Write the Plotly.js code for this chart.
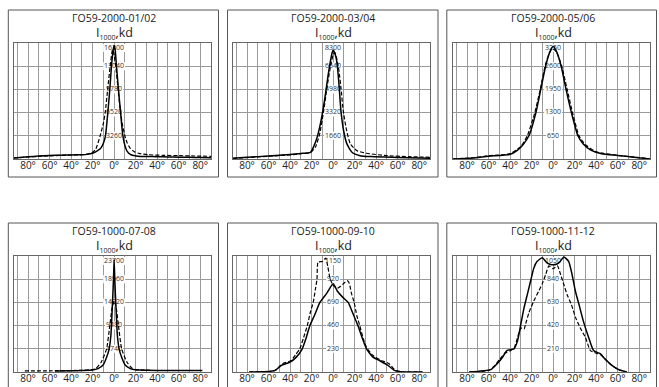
<!DOCTYPE html>
<html><head><meta charset="utf-8">
<script src="https://cdn.plot.ly/plotly-3.0.1.min.js"></script>
<style>html,body{margin:0;padding:0;background:#fff}#chart{width:659px;height:387px}</style>
</head><body><div id="chart"></div>
<script>
// ---------- data ----------
const titles = ["ГО59-2000-01/02", "ГО59-2000-03/04", "ГО59-2000-05/06",
                "ГО59-1000-07-08", "ГО59-1000-09-10", "ГО59-1000-11-12"];
const unitLabel = "I<sub><span style='font-size:7px'>1000</span></sub>,kd";
const angleTicks = [-90,-80,-70,-60,-50,-40,-30,-20,-10,0,10,20,30,40,50,60,70,80,90];
const angleTickText = ["","80°","","60°","","40°","","20°","","0°","","20°","","40°","","60°","","80°",""];

const yLabels1 = [16300, 13040, 9780, 6520, 3260];
const yLabels2 = [8300, 6640, 4980, 3320, 1660];
const yLabels3 = [3250, 2600, 1950, 1300, 650];
const yLabels4 = [23700, 18960, 14220, 9480, 4740];
const yLabels5 = [1150, 920, 690, 460, 230];
const yLabels6 = [1050, 840, 630, 420, 210];

// panel 1
const solidAng1 = [-93,-80,-70,-60,-50,-40,-30,-25,-20,-15,-12,-10,-8,-6,-4,-2.5,-1,0,1,2.2,4,6,8,10,12,15,18,22,30,40,50,60,70,80,90];
const solidVal1 = [150,300,420,500,540,570,600,650,800,1200,1600,2200,3300,6300,9800,13000,15200,16000,15300,13000,9800,6500,3400,1900,1100,650,480,400,350,320,290,260,230,200,180];
const dashAng1 = [-93,-80,-60,-40,-30,-25,-20,-17,-13,-10,-8.3,-6,-3.7,-1.5,0,1.5,3.7,6,8,10,12,15,19,23,32,45,60,75,90];
const dashVal1 = [150,280,450,560,600,700,950,1400,3260,5000,6520,9780,13040,15350,14600,13040,9780,6520,4600,3260,2300,1500,1000,800,600,520,470,420,380];
// panel 2
const solidAng2 = [-93,-80,-60,-40,-30,-21,-17,-14,-10.6,-7.5,-4.4,-1,0,2.5,4,5.6,7.2,9.7,12.8,17.5,25,35,60,90];
const solidVal2 = [60,120,220,330,400,480,1080,1800,3000,4450,6130,7580,7800,7340,6600,5170,3490,2040,1080,480,240,170,110,60];
const dashAng2 = [-93,-80,-60,-40,-30,-21,-16.5,-12.5,-8.7,-5.6,-2.5,0,1.5,3,5.3,7.5,9.3,12.5,16,22,31,50,70,90];
const dashVal2 = [50,100,200,300,380,480,840,1800,3490,5170,6600,7450,7630,7300,6370,4930,3490,2040,1080,600,410,240,170,120];
// panel 3
const solidAng3 = [-93,-75,-60,-40,-33,-28,-22.5,-16,-11.5,-7,-3,0,3,7.5,12,17,23,28,35,45,60,75,90];
const solidVal3 = [0,30,80,130,250,400,650,1300,1950,2600,3000,3150,3020,2600,1950,1300,650,420,250,150,100,50,0];
const dashAng3 = [-93,-75,-60,-40,-30,-24,-17,-12,-7.5,-3,0,3,8,13,18,24,30,40,60,80,90];
const dashVal3 = [0,35,90,150,350,650,1300,1950,2600,3000,3080,3000,2600,1950,1300,650,400,200,100,40,0];
// panel 4
const solidAng4 = [-55,-40,-30,-20,-15,-10,-7,-4.6,-3,-2.5,-1.5,-0.6,0,0.6,1.5,2.5,3,4.6,7,10,15,20,30,50,70,82];
const solidVal4 = [200,250,300,400,700,1500,3000,4740,7500,9480,14220,18960,23000,18960,14220,9480,7500,4740,3000,1500,700,450,350,300,300,300];
const dashAng4 = [-83,-60,-40,-30,-20,-17,-12,-7,-4,-2,0,2,4,7,12,17,20,25,35];
const dashVal4 = [250,250,300,350,500,700,2000,4740,9480,13000,14500,13000,9480,4740,2000,700,500,400,350];
// panel 5
const solidAng5 = [-78,-60,-54,-48,-40,-34,-28.7,-25,-21.6,-17,-12.3,-6,0,4,9,14,18,23,27,31,37,43,51,57,65,83];
const solidVal5 = [0,5,16,65,98,150,230,340,460,570,690,780,875,800,740,690,590,460,340,230,147,114,65,16,0,0];
const dashAng5 = [-78,-60,-54,-47,-39,-35,-31,-27.5,-24,-21,-18.5,-16.5,-15,-14,-10,-7,-5,-3,0,4,7,10,13,15,17,19.5,22,24.7,28,31,37,45,52,58,65,83];
const dashVal5 = [0,5,15,82,114,170,230,340,460,600,690,820,920,1090,1095,1130,1050,931,860,830,850,880,905,880,780,690,560,460,330,245,163,114,82,16,0,0];
// panel 6
const solidAng6 = [-78,-58,-52,-47,-43,-36.4,-33,-30,-27,-24,-21,-18,-15,-10,-6,-3,0,3,6,10,14.5,17.6,20.7,24,28,33,37.6,44,48,54.6,61,68.5];
const solidVal6 = [0,21,75,134,194,209,284,433,582,701,821,940,1000,1035,990,975,970,975,995,1040,1000,881,731,612,463,313,194,164,119,60,21,0];
const dashAng6 = [-78,-60,-55,-50,-45,-40,-36,-33,-31,-29,-27,-25.6,-22.5,-18,-13,-10,-7,-4,0,4,7,10,13,17,21,25,30,34.6,40,45,50,55,61,68];
const dashVal6 = [0,15,50,110,170,190,224,313,380,400,390,433,537,642,740,800,880,960,935,960,880,790,700,610,490,403,313,194,170,150,100,55,21,0];

// ---------- layout helpers ----------
const W = 659, H = 387;
const panels = [
  {sa: solidAng1, sv: solidVal1, da: dashAng1, dv: dashVal1, yl: yLabels1},
  {sa: solidAng2, sv: solidVal2, da: dashAng2, dv: dashVal2, yl: yLabels2},
  {sa: solidAng3, sv: solidVal3, da: dashAng3, dv: dashVal3, yl: yLabels3},
  {sa: solidAng4, sv: solidVal4, da: dashAng4, dv: dashVal4, yl: yLabels4},
  {sa: solidAng5, sv: solidVal5, da: dashAng5, dv: dashVal5, yl: yLabels5},
  {sa: solidAng6, sv: solidVal6, da: dashAng6, dv: dashVal6, yl: yLabels6}
];
const colOff = [0, 219, 439];
const plotL = 13.5, plotR = 211;
const rowTop = [43, 256], rowBot = [159, 372];
const boxX = [[8.3, 218.5], [227.5, 438], [446.8, 656.5]];
const boxY = [[10, 177], [223, 400]];
const titleY = [18, 231], unitY = [32.5, 245.5];
const FONT = "Open Sans, Noto Sans, sans-serif";

const data = [];
const layout = {
  width: W, height: H, margin: {l:0, r:0, t:0, b:0},
  paper_bgcolor: "#fff", plot_bgcolor: "#fff", showlegend: false,
  font: {family: FONT, color: "#222"},
  shapes: [], annotations: []
};

panels.forEach((p, i) => {
  const r = Math.floor(i / 3), c = i % 3;
  const n = i === 0 ? "" : String(i + 1);
  const xa = "x" + n, ya = "y" + n;
  const yMax = p.yl[0];
  const plotH = rowBot[r] - rowTop[r];
  layout["xaxis" + n] = {
    domain: [(plotL + colOff[c]) / W, (plotR + colOff[c]) / W],
    anchor: ya, range: [-93.5, 90], tickvals: angleTicks, ticktext: angleTickText,
    showgrid: true, gridcolor: "#9a9a9a", gridwidth: 1, zeroline: false,
    showline: true, mirror: true, linecolor: "#666", linewidth: 1,
    ticks: "", tickangle: 0, ticklabelstandoff: -3,
    tickfont: {size: 10, color: "#222", family: FONT}, fixedrange: true
  };
  layout["yaxis" + n] = {
    domain: [1 - rowBot[r] / H, 1 - rowTop[r] / H],
    anchor: xa, range: [0, yMax], tickvals: p.yl, showticklabels: false,
    showgrid: true, gridcolor: "#9a9a9a", gridwidth: 1, zeroline: false,
    showline: true, mirror: true, linecolor: "#666", linewidth: 1, ticks: "", fixedrange: true
  };
  // label positions: top label pushed just inside the frame
  const ly = p.yl.map(v => v === yMax ? yMax * (1 - 5 / plotH) : v);
  data.push({
    x: p.yl.map(() => 0), y: ly, text: p.yl.map(String), mode: "text",
    textposition: "middle center", textfont: {size: 7, color: "#333", family: FONT},
    xaxis: xa, yaxis: ya, hoverinfo: "skip", cliponaxis: false
  });
  p.yl.forEach((v, k) => {
    const w = String(v).length * 4 + 2;
    layout.shapes.push({
      type: "rect", xref: xa, yref: ya, xsizemode: "pixel", ysizemode: "pixel",
      xanchor: 0, yanchor: ly[k], x0: -w / 2, x1: w / 2, y0: -4, y1: 4,
      fillcolor: "#fff", line: {width: 0}, layer: "between"
    });
  });
  data.push({
    x: p.da, y: p.dv, mode: "lines", xaxis: xa, yaxis: ya, hoverinfo: "skip",
    line: {color: "#000", width: 1.2, dash: "4px,2px", shape: "spline", smoothing: 0.5}
  });
  data.push({
    x: p.sa, y: p.sv, mode: "lines", xaxis: xa, yaxis: ya, hoverinfo: "skip",
    line: {color: "#000", width: 1.5, shape: "spline", smoothing: 0.5}
  });
  // panel frame
  layout.shapes.push({
    type: "rect", xref: "paper", yref: "paper",
    x0: boxX[c][0] / W, x1: boxX[c][1] / W, y0: 1 - boxY[r][1] / H, y1: 1 - boxY[r][0] / H,
    line: {color: "#555", width: 1}, fillcolor: "rgba(0,0,0,0)", layer: "above"
  });
  layout.annotations.push({
    text: titles[i], xref: xa, yref: "paper", x: 0, y: 1 - titleY[r] / H,
    xanchor: "center", yanchor: "middle", showarrow: false,
    font: {size: 10.5, color: "#222", family: FONT}
  });
  layout.annotations.push({
    text: unitLabel, xref: xa, yref: "paper", x: 0, y: 1 - unitY[r] / H,
    xanchor: "center", yanchor: "middle", showarrow: false,
    font: {size: 12.5, color: "#222", family: FONT}
  });
});

Plotly.newPlot("chart", data, layout, {staticPlot: true, displayModeBar: false});
</script></body></html>
